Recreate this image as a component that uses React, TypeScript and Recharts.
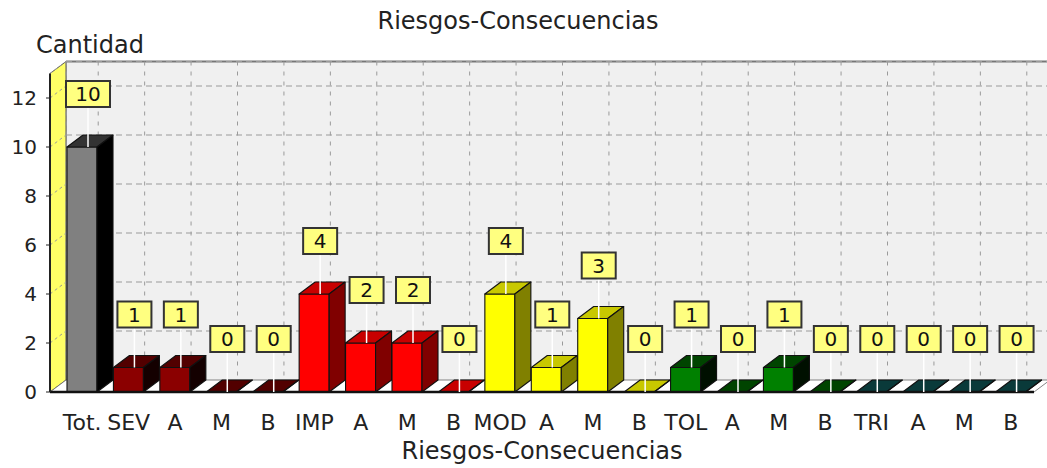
import { BarChart, Bar, XAxis, YAxis, CartesianGrid, ReferenceArea, LabelList, Label } from 'recharts';

const categories = ['Tot.', 'SEV', 'A', 'M', 'B', 'IMP', 'A', 'M', 'B', 'MOD', 'A', 'M', 'B', 'TOL', 'A', 'M', 'B', 'TRI', 'A', 'M', 'B'];
const cantidades = [10, 1, 1, 0, 0, 4, 2, 2, 0, 4, 1, 3, 0, 1, 0, 1, 0, 0, 0, 0, 0];
const yTicks = [0, 2, 4, 6, 8, 10, 12];

// front / top / side per group: Tot., SEV, IMP, MOD, TOL, TRI
const palette = [
  ['#808080', '#333333', '#000000'],
  ['#8b0000', '#520000', '#140000'],
  ['#ff0000', '#c80000', '#800000'],
  ['#ffff00', '#c8c800', '#808000'],
  ['#008000', '#004400', '#001000'],
  ['#005050', '#0a3a3a', '#001515'],
];
const groupOf = (i: number) => (i <= 0 ? 0 : Math.floor((i - 1) / 4) + 1);

const data = categories.map((name, i) => ({ name, value: cantidades[i] }));

const DX = 16;
const DY = 12;
const PAD = 9;
const FONT = 'DejaVu Sans, Verdana, sans-serif';

function Bar3D(props: any) {
  const { x, y, width, height } = props;
  const idx = props.index ?? data.indexOf(props.payload);
  const [front, top, side] = palette[groupOf(idx)];
  const h = Math.max(height || 0, 0);
  return (
    <g stroke="#111" strokeWidth={1.1} strokeLinejoin="round">
      <rect x={x} y={y} width={width} height={h} fill={front} />
      <polygon points={`${x},${y} ${x + DX},${y - DY} ${x + width + DX},${y - DY} ${x + width},${y}`} fill={top} />
      <polygon
        points={`${x + width},${y} ${x + width + DX},${y - DY} ${x + width + DX},${y + h - DY} ${x + width},${y + h}`}
        fill={side}
      />
    </g>
  );
}

function ValueBox(props: any) {
  const vb = props.viewBox ?? props;
  const { x, y, width } = vb;
  const value = props.value;
  const cx = x + width / 2 + 6;
  const w = String(value).length > 1 ? 44 : 34;
  const bottom = y - 40;
  return (
    <g>
      <line x1={cx} y1={bottom} x2={cx} y2={y} stroke="#fff" strokeWidth={1.5} />
      <rect x={cx - w / 2} y={bottom - 26} width={w} height={26} fill="#ffff80" stroke="#333" strokeWidth={2} />
      <text x={cx} y={bottom - 6} textAnchor="middle" fontSize={20} fill="#111" fontFamily={FONT}>
        {value}
      </text>
    </g>
  );
}

function Walls(props: any) {
  const { x, y, width, height } = props;
  const left = x - PAD;
  const right = x + width;
  const bottom = y + height;
  return (
    <g>
      <rect x={left + DX} y={y - DY} width={right - left} height={height} fill="#f0f0f0" />
      <line x1={left + DX} y1={y - DY} x2={right + DX} y2={y - DY} stroke="#777" strokeWidth={2} />
      <line x1={left + DX} y1={y - DY} x2={left + DX} y2={bottom - DY} stroke="#999" strokeWidth={1} />
      <polygon
        points={`${left},${bottom} ${left},${y} ${left + DX},${y - DY} ${left + DX},${bottom - DY}`}
        fill="#ffff66"
        stroke="#555"
        strokeWidth={1}
      />
      <polygon
        points={`${left},${bottom} ${right},${bottom} ${right + DX},${bottom - DY} ${left + DX},${bottom - DY}`}
        fill="#ffffff"
        stroke="#666"
        strokeWidth={0.8}
      />
    </g>
  );
}

function HLine(props: any) {
  const { x1, y1, x2, index } = props;
  if (index === 0 || y1 > 390) return <g />;
  return (
    <g stroke="#9a9a9a" strokeWidth={1}>
      <line x1={x1} y1={y1} x2={x1 + DX} y2={y1 - DY} strokeDasharray="3 3" />
      <line x1={x1 + DX} y1={y1 - DY} x2={x2 + DX} y2={y1 - DY} strokeDasharray="6 4" />
    </g>
  );
}

function VLine(props: any) {
  const { x1, y1, y2 } = props;
  return <line x1={x1 + DX} y1={y1 - DY} x2={x1 + DX} y2={y2 - DY} stroke="#9a9a9a" strokeWidth={1} strokeDasharray="4 6" />;
}

export default function App() {
  return (
    <div style={{ position: 'relative', width: 1047, height: 468, fontFamily: FONT, background: '#fff' }}>
      <style>{'body{margin:0}'}</style>
      <div style={{ position: 'absolute', left: 0, width: 1036, top: 9, textAlign: 'center', fontSize: 24, lineHeight: '24px', color: '#222' }}>
        Riesgos-Consecuencias
      </div>
      <div style={{ position: 'absolute', left: 36, top: 33, fontSize: 24, lineHeight: '24px', color: '#222' }}>Cantidad</div>
      <BarChart width={1047} height={468} data={data} margin={{ top: 73.5, right: 13, bottom: 0, left: 0 }}>
        <ReferenceArea y1={0} y2={13} shape={Walls} ifOverflow="visible" zIndex={-200} />
        <CartesianGrid horizontal={HLine} vertical={VLine} />
        <XAxis
          dataKey="name"
          interval={0}
          height={76}
          padding={{ left: PAD, right: 0 }}
          tickLine={false}
          tickSize={0}
          tickMargin={22}
          axisLine={{ stroke: '#111', strokeWidth: 2.5 }}
          tick={{ fontSize: 22, fill: '#222', fontFamily: FONT }}
        >
          <Label value="Riesgos-Consecuencias" position="insideBottom" offset={9} style={{ fontSize: 24, fill: '#222', fontFamily: FONT }} />
        </XAxis>
        <YAxis
          width={50}
          domain={[0, 13]}
          ticks={yTicks}
          tickSize={4}
          tickMargin={9}
          axisLine={{ stroke: '#222', strokeWidth: 2 }}
          tickLine={{ stroke: '#222' }}
          tick={{ fontSize: 20, fill: '#222', fontFamily: FONT }}
        />
        <Bar dataKey="value" barSize={30} shape={Bar3D} isAnimationActive={false}>
          <LabelList dataKey="value" content={ValueBox} />
        </Bar>
      </BarChart>
    </div>
  );
}
